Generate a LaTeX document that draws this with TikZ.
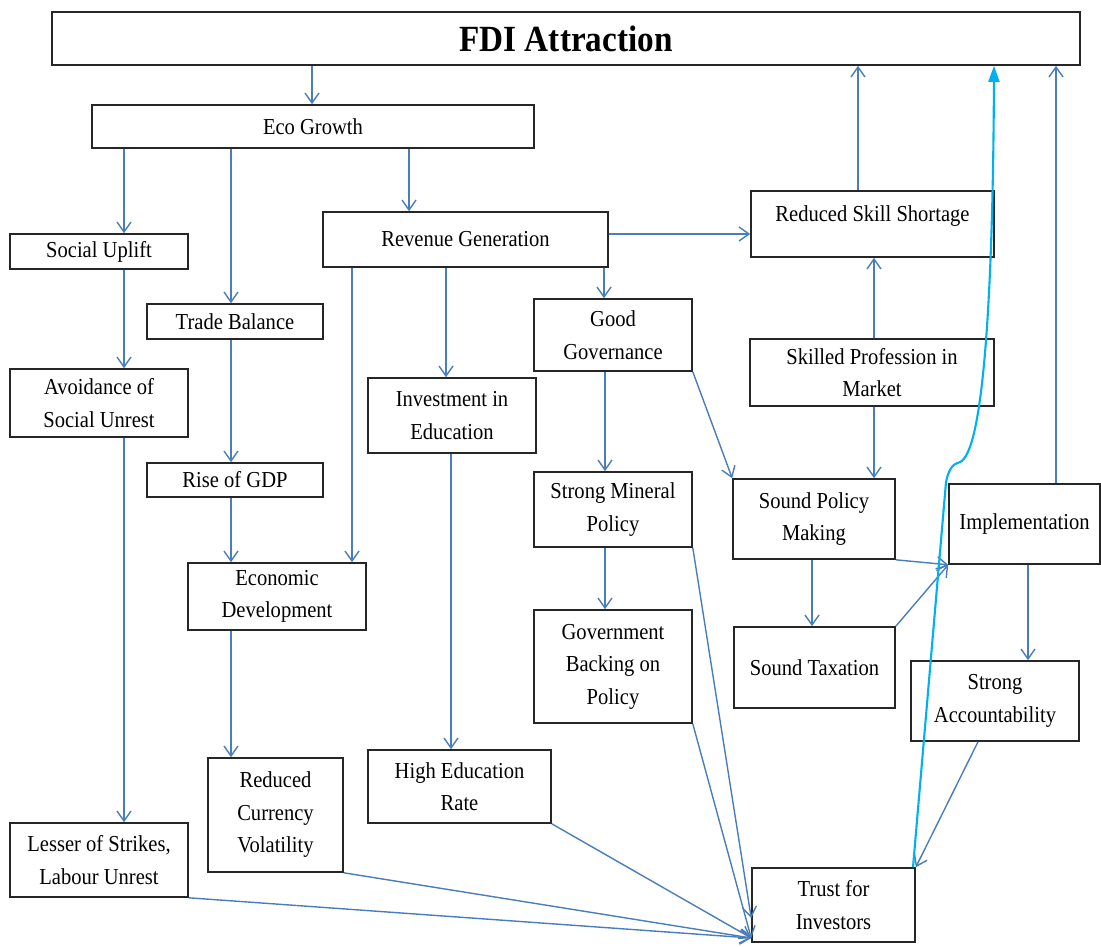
\documentclass[tikz,border=0pt]{standalone}
\usepackage{fontspec}
\setmainfont{Liberation Serif}[FakeStretch=0.9]
\usetikzlibrary{arrows.meta}
\definecolor{linkblue}{HTML}{4A7EBB}
\definecolor{skyline}{HTML}{00B0F0}
\newcommand{\boxfont}{\fontsize{13}{18.5}\selectfont}

\begin{document}
\begin{tikzpicture}[x=0.02cm,y=-0.02cm,
    sz/.style 2 args={minimum width=#1*0.02cm,minimum height=#2*0.02cm}]
                \useasboundingbox (0,0) rectangle (1101,946);
                \begin{scope}[every node/.style={draw=black!85,line width=0.9pt,inner sep=0pt,align=center,font=\boxfont}]
                    \node[sz={1028}{53},font=\fontsize{21}{24}\selectfont\bfseries] (fdi) at (566,38.5) {FDI Attraction};
                    \node[sz={442}{43}] (eco) at (313,126.5) {Eco Growth};
                    \node[sz={178}{35}] (socup) at (99,251.5) {Social Uplift};
                    \node[sz={285}{55}] (rev) at (465.5,239.5) {Revenue Generation};
                    \node[sz={243}{66},text depth=12pt] (skillgap) at (872.5,224) {Reduced Skill Shortage};
                    \node[sz={176}{35}] (trade) at (235,321.5) {Trade Balance};
                    \node[sz={178}{68}] (unrest) at (99,403) {Avoidance of\\Social Unrest};
                    \node[sz={158}{72}] (gov) at (613,335) {Good\\Governance};
                    \node[sz={244}{67}] (skilled) at (872,372.5) {Skilled Profession in\\Market};
                    \node[sz={168}{75}] (edu) at (452,415.5) {Investment in\\Education};
                    \node[sz={176}{34}] (gdp) at (235,480) {Rise of GDP};
                    \node[sz={158}{75}] (mineral) at (613,509.5) {Strong Mineral\\Policy};
                    \node[sz={162}{80}] (policy) at (814,519) {Sound Policy\\Making};
                    \node[sz={151}{80}] (impl) at (1024.5,524) {Implementation};
                    \node[sz={178}{67}] (dev) at (277,596.5) {Economic\\Development};
                    \node[sz={158}{113}] (backing) at (613,666.5) {Government\\Backing on\\Policy};
                    \node[sz={161}{81}] (tax) at (814.5,667.5) {Sound Taxation};
                    \node[sz={168}{80}] (account) at (995,701) {Strong\\Accountability};
                    \node[sz={183}{73}] (edurate) at (459.5,786.5) {High Education\\Rate};
                    \node[sz={135}{114}] (currency) at (275.5,815) {Reduced\\Currency\\Volatility};
                    \node[sz={178}{74}] (strikes) at (99,860) {Lesser of Strikes,\\Labour Unrest};
                    \node[sz={163}{74}] (trust) at (833.5,905) {Trust for\\Investors};
                \end{scope}

                \begin{scope}[>={Straight Barb[length=2mm,width=2.8mm]},
                    every edge/.style={draw=linkblue,line width=0.8pt}]
                    \path [->] (fdi.south -| 312,0) edge (eco.north -| 312,0);

                    \path [->] (eco.south -| 124,0) edge (socup.north -| 124,0);
                    \path [->] (eco.south -| 231,0) edge (trade.north -| 231,0);
                    \path [->] (eco.south -| 409,0) edge (rev.north -| 409,0);

                    \path [->] (socup.south -| 124,0) edge (unrest.north -| 124,0);
                    \path [->] (unrest.south -| 124,0) edge (strikes.north -| 124,0);

                    \path [->] (trade.south -| 231,0) edge (gdp.north -| 231,0);
                    \path [->] (gdp.south -| 231,0) edge (dev.north -| 231,0);
                    \path [->] (dev.south -| 231,0) edge (currency.north -| 231,0);

                    \path [->] (rev.south -| 352,0) edge (dev.north -| 352,0);
                    \path [->] (rev.south -| 446,0) edge (edu.north -| 446,0);
                    \path [->] (rev.south -| 604,0) edge (gov.north -| 604,0);
                    \path [->] (rev.east |- 0,234) edge (skillgap.west |- 0,234);
                    \path [->] (edu.south -| 451,0) edge (edurate.north -| 451,0);

                    \path [->] (skillgap.north -| 858,0) edge (fdi.south -| 858,0);
                    \path [->] (skilled.north -| 874,0) edge (skillgap.south -| 874,0);
                    \path [->] (skilled.south -| 874,0) edge (policy.north -| 874,0);

                    \path [->] (gov.south -| 605,0) edge (mineral.north -| 605,0);
                    \path [->] (gov.south east) edge (policy.north west);
                    \path [->] (mineral.south -| 605,0) edge (backing.north -| 605,0);

                    \path [->] (policy.south -| 812,0) edge (tax.north -| 812,0);
                    \path [->] (policy.south east) edge (impl.south west);
                    \path [->] (tax.north east) edge (impl.south west);
                    \path [->] (impl.north -| 1056,0) edge (fdi.south -| 1056,0);
                    \path [->] (impl.south -| 1028,0) edge (account.north -| 1028,0);
                    \path [->] (account.south -| 978,0) edge (trust.north east);

                    \path [->] (mineral.south east) edge (trust.west |- 0,918);
                    \path [->] (backing.south east) edge (trust.west |- 0,938);
                    \path [->] (edurate.south east) edge (trust.west |- 0,938);
                    \path [->] (currency.south east) edge (trust.west |- 0,938);
                    \path [->] (strikes.south east) edge (trust.west |- 0,938);
                \end{scope}

                \draw[skyline,line width=1.2pt,-{Triangle[length=3.2mm,width=2.2mm]}]
                    (trust.north -| 913,0) -- (946,482) .. controls (949,468) and (953,464) .. (960,462)
                    .. controls (983,452) and (993,300) .. (fdi.south -| 994,0);
            \end{tikzpicture}
\end{document}
